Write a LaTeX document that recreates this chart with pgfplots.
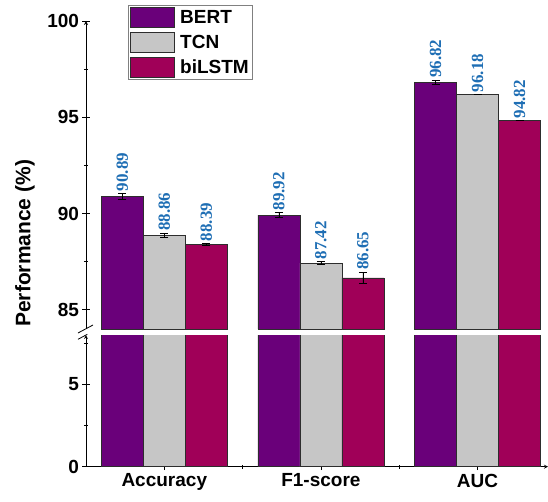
\documentclass[border=0pt]{standalone}
\usepackage{fontspec}
\setmainfont{Liberation Sans}
\newfontfamily\lserif{Liberation Serif}
\usepackage{pgfplots}
\pgfplotsset{compat=1.18}
\usepackage{pgfplotstable}

\definecolor{cBERT}{RGB}{106,0,122}
\definecolor{cTCN}{RGB}{198,198,198}
\definecolor{cLSTM}{RGB}{160,0,88}
\definecolor{cLab}{RGB}{30,110,180}
\definecolor{cEdge}{RGB}{45,45,45}

\pgfplotstableread{
x y err lab
0 90.89 0.15 90.89
1 89.92 0.12 89.92
2 96.82 0.10 96.82
}\tabBERT
\pgfplotstableread{
x y err lab
0 88.86 0.12 88.86
1 87.42 0.08 87.42
2 96.18 0.00 96.18
}\tabTCN
\pgfplotstableread{
x y err lab
0 88.39 0.05 88.39
1 86.65 0.30 86.65
2 94.82 0.00 94.82
}\tabLSTM

\pgfplotsset{
  common/.style={
    scale only axis, width=462pt,
    xmin=-0.5, xmax=2.45,
    ybar=0pt, bar width=42pt,
    tick align=outside,
    major tick length=7pt, minor tick length=4pt,
    axis line style={-, line width=0.8pt, black},
    every tick/.style={black, line width=0.8pt},
    every tick label/.append style={font=\fontsize{19}{22}\selectfont\bfseries},
    /pgf/number format/assume math mode=true,
  },
  barup/.style={draw=cEdge, line width=0.7pt,
    error bars/.cd, y dir=both, y explicit,
    error bar style={black, line width=0.6pt},
    error mark options={rotate=90, mark size=4pt, black, line width=0.6pt}},
}

\begin{document}
\begin{tikzpicture}
\path[use as bounding box] (-86pt,-34.3pt) rectangle (462pt,466.7pt);

% upper part
\begin{axis}[common, at={(0,137.7pt)}, height=308pt,
  ymin=84, ymax=100, ytick={85,90,95,100}, minor ytick={87.5,92.5,97.5},
  axis x line=none, axis y line=left, xtick=\empty,
  ylabel={Performance (\%)},
  ylabel style={font=\fontsize{21}{24}\selectfont\bfseries, at={(rel axis cs:-0.132,0.278)}, anchor=center, rotate=0},
  legend image code/.code={\draw[#1, draw=cEdge, line width=0.8pt] (0pt,-10pt) rectangle (44pt,10pt);},
  legend style={at={(rel axis cs:0.091,1.052)}, anchor=north west, draw=gray, line width=0.7pt,
    inner sep=2pt, row sep=4pt, font=\fontsize{19}{22}\selectfont\bfseries, cells={anchor=west},
    /tikz/every odd column/.append style={column sep=3pt}},
  nodes near coords, point meta=explicit symbolic,
  visualization depends on={\thisrow{err} \as \myerr},
  nodes near coords style={yshift={\myerr*19.25pt+1.5pt}, rotate=90, anchor=west,
    inner sep=0.5pt, text=cLab, font=\lserif\fontsize{17}{20}\selectfont\bfseries},
]
\addplot[fill=cBERT, barup] table[x=x, y=y, y error=err, meta=lab]{\tabBERT};
\addplot[fill=cTCN, barup] table[x=x, y=y, y error=err, meta=lab]{\tabTCN};
\addplot[fill=cLSTM, barup] table[x=x, y=y, y error=err, meta=lab]{\tabLSTM};
\legend{BERT,TCN,biLSTM}
\end{axis}

% lower part
\begin{axis}[common, at={(0,0)}, height=131.7pt,
  ymin=0, ymax=8, ytick={0,5}, minor ytick={2.5,7.5},
  axis x line=bottom, axis y line=left,
  xtick={0,1,2}, xticklabels={Accuracy,F1-score,AUC}, minor xtick={0.5,1.5},
]
\addplot[fill=cBERT, draw=cEdge, line width=0.7pt] table[x=x, y=y]{\tabBERT};
\addplot[fill=cTCN, draw=cEdge, line width=0.7pt] table[x=x, y=y]{\tabTCN};
\addplot[fill=cLSTM, draw=cEdge, line width=0.7pt] table[x=x, y=y]{\tabLSTM};
\end{axis}

% axis break marks
\draw[line width=0.8pt] (-8pt,133.7pt) -- (7pt,141.7pt);
\draw[line width=0.8pt] (-8pt,127.4pt) -- (1.3pt,132.4pt);
\end{tikzpicture}
\end{document}
